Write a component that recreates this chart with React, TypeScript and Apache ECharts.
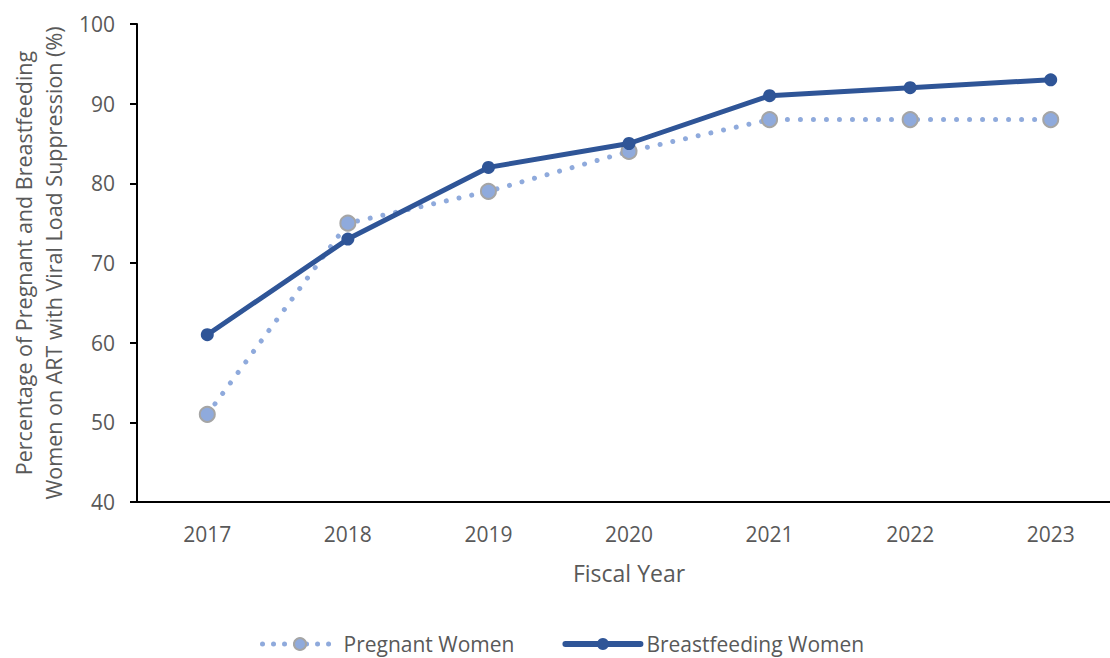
import React, { useEffect, useRef } from "react";
import * as echarts from "echarts";

const years = ["2017", "2018", "2019", "2020", "2021", "2022", "2023"];
const pregnant = [51, 75, 79, 84, 88, 88, 88];
const breastfeeding = [61, 73, 82, 85, 91, 92, 93];
const yTicks = { min: 40, max: 100, interval: 10 };

const FONT = "'Open Sans', 'Noto Sans', sans-serif";
const GRAY = "#595959";
const LIGHT = "#8FAADC";
const DARK = "#2F5597";

export default function App() {
  const ref = useRef<HTMLDivElement>(null);
  useEffect(() => {
    if (!ref.current) return;
    const chart = echarts.init(ref.current, null, { renderer: "svg" });
    chart.setOption({
      animation: false,
      backgroundColor: "#ffffff",
      textStyle: { fontFamily: FONT },
      grid: { left: 134, top: 24, width: 987, bottom: 156, containLabel: false },
      legend: {
        top: 633,
        left: 260,
        itemWidth: 75,
        itemHeight: 15,
        itemGap: 48,
        padding: 0,
        textStyle: { color: GRAY, fontSize: 21, lineHeight: 22, fontFamily: FONT, padding: [0, 0, 0, 1] },
        data: [
          {
            name: "Pregnant Women",
            lineStyle: { width: 5, type: [0.01, 11], cap: "round", color: LIGHT },
            itemStyle: { color: LIGHT, borderColor: "#A5A5A5", borderWidth: 2 },
          },
          {
            name: "Breastfeeding Women",
            lineStyle: { width: 6, color: DARK, cap: "round" },
            itemStyle: { color: DARK },
          },
        ],
      },
      xAxis: {
        type: "category",
        data: years,
        boundaryGap: true,
        name: "Fiscal Year",
        nameLocation: "middle",
        nameGap: 59,
        nameTextStyle: { color: GRAY, fontSize: 23, fontFamily: FONT },
        axisLine: { lineStyle: { color: "#000", width: 2 } },
        axisTick: { show: false },
        axisLabel: { color: GRAY, fontSize: 21, margin: 21, fontFamily: FONT },
      },
      yAxis: {
        type: "value",
        min: yTicks.min,
        max: yTicks.max,
        interval: yTicks.interval,
        name: "Percentage of Pregnant and Breastfeeding\nWomen on ART with Viral Load Suppression (%)",
        nameLocation: "middle",
        nameGap: 69,
        nameTextStyle: { color: GRAY, fontSize: 21.5, lineHeight: 30, fontFamily: FONT },
        axisLine: { show: true, lineStyle: { color: "#000", width: 2 } },
        axisTick: { show: true, length: 7, lineStyle: { color: "#000", width: 2 } },
        axisLabel: { color: GRAY, fontSize: 21, margin: 22, fontFamily: FONT },
        splitLine: { show: false },
      },
      series: [
        {
          name: "Pregnant Women",
          type: "line",
          data: pregnant,
          symbol: "circle",
          symbolSize: 15,
          z: 2,
          lineStyle: { color: LIGHT, width: 5, type: [0.01, 13], cap: "round" },
          itemStyle: { color: LIGHT, borderColor: "#A5A5A5", borderWidth: 2 },
        },
        {
          name: "Breastfeeding Women",
          type: "line",
          data: breastfeeding,
          symbol: "circle",
          symbolSize: 13,
          z: 3,
          lineStyle: { color: DARK, width: 5 },
          itemStyle: { color: DARK },
        },
      ],
    });
    return () => chart.dispose();
  }, []);
  return (
    <div style={{ position: "absolute", left: 0, top: 0, width: 1110, height: 658, overflow: "hidden", background: "#fff" }}>
      <div ref={ref} style={{ width: 1125, height: 658 }} />
    </div>
  );
}
